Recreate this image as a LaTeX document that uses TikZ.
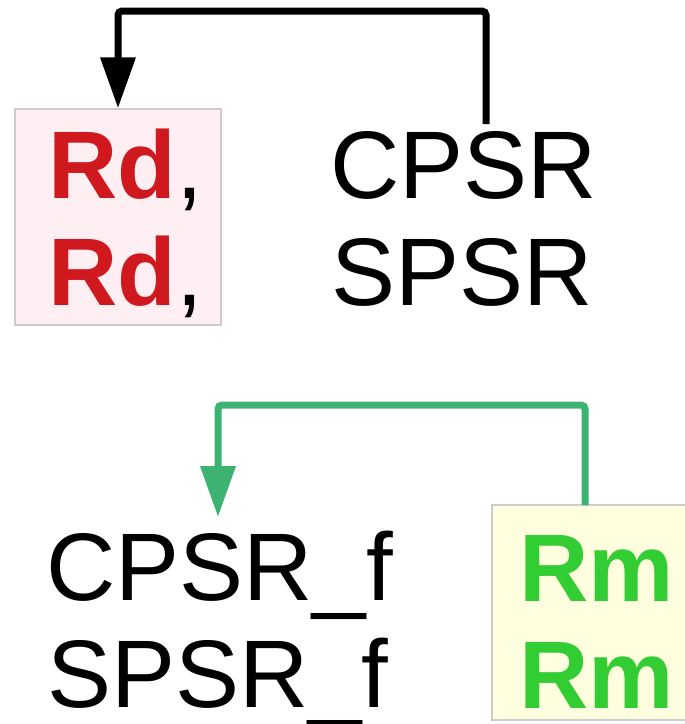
\documentclass[tikz,border=0pt]{standalone}
\usepackage{fontspec}
\setmainfont{Liberation Sans}
\usetikzlibrary{arrows.meta}
\definecolor{rdred}{HTML}{D0191F}
\definecolor{rdfill}{HTML}{FFEEF2}
\definecolor{rmfill}{HTML}{FFFFE0}
\definecolor{rmgreen}{HTML}{32CD32}
\definecolor{argreen}{HTML}{3CB371}
\definecolor{boxline}{HTML}{CCCCCC}
\begin{document}
\begin{tikzpicture}[x=1pt,y=-1pt,
  big/.style={inner sep=0pt,anchor=base west,font=\fontsize{96}{107}\selectfont},
  regbox/.style={draw=boxline,line width=1.5pt,inner sep=0pt},
  conn/.style={line width=7pt,rounded corners=4pt,-{Triangle[length=51pt,width=34pt]}}]
\useasboundingbox (0,0) rectangle (685,724);
% boxes
\node[regbox,fill=rdfill,minimum width=206pt,minimum height=216pt] (rdbox) at (118,217) {};
\node[regbox,fill=rmfill,minimum width=195pt,minimum height=215pt] (rmbox) at (589.5,612.5) {};
% texts
\node[big] (rd1) at (48,198) {\textcolor{rdred}{\bfseries Rd},};
\node[big] (rd2) at (48,305) {\textcolor{rdred}{\bfseries Rd},};
\node[big] (cpsr) at (330,198) {CPSR};
\node[big] (spsr) at (331,305) {SPSR};
\node[big] (cpsrf) at (46,600) {CPSR\_f};
\node[big] (spsrf) at (47,707) {SPSR\_f};
\node[big,text=rmgreen,font=\fontsize{96}{107}\selectfont\bfseries] (rm1) at (519,601) {Rm};
\node[big,text=rmgreen,font=\fontsize{96}{107}\selectfont\bfseries] (rm2) at (519,708) {Rm};
% connectors
\coordinate (c1) at (486,124);
\draw[conn,black] (c1) -- (486,11) -- (118,11) -- (rdbox.north);
\coordinate (g1) at (585,505);
\coordinate (g2) at (218,517);
\draw[conn,argreen] (g1) -- (585,405) -- (218,405) -- (g2);
\end{tikzpicture}
\end{document}
